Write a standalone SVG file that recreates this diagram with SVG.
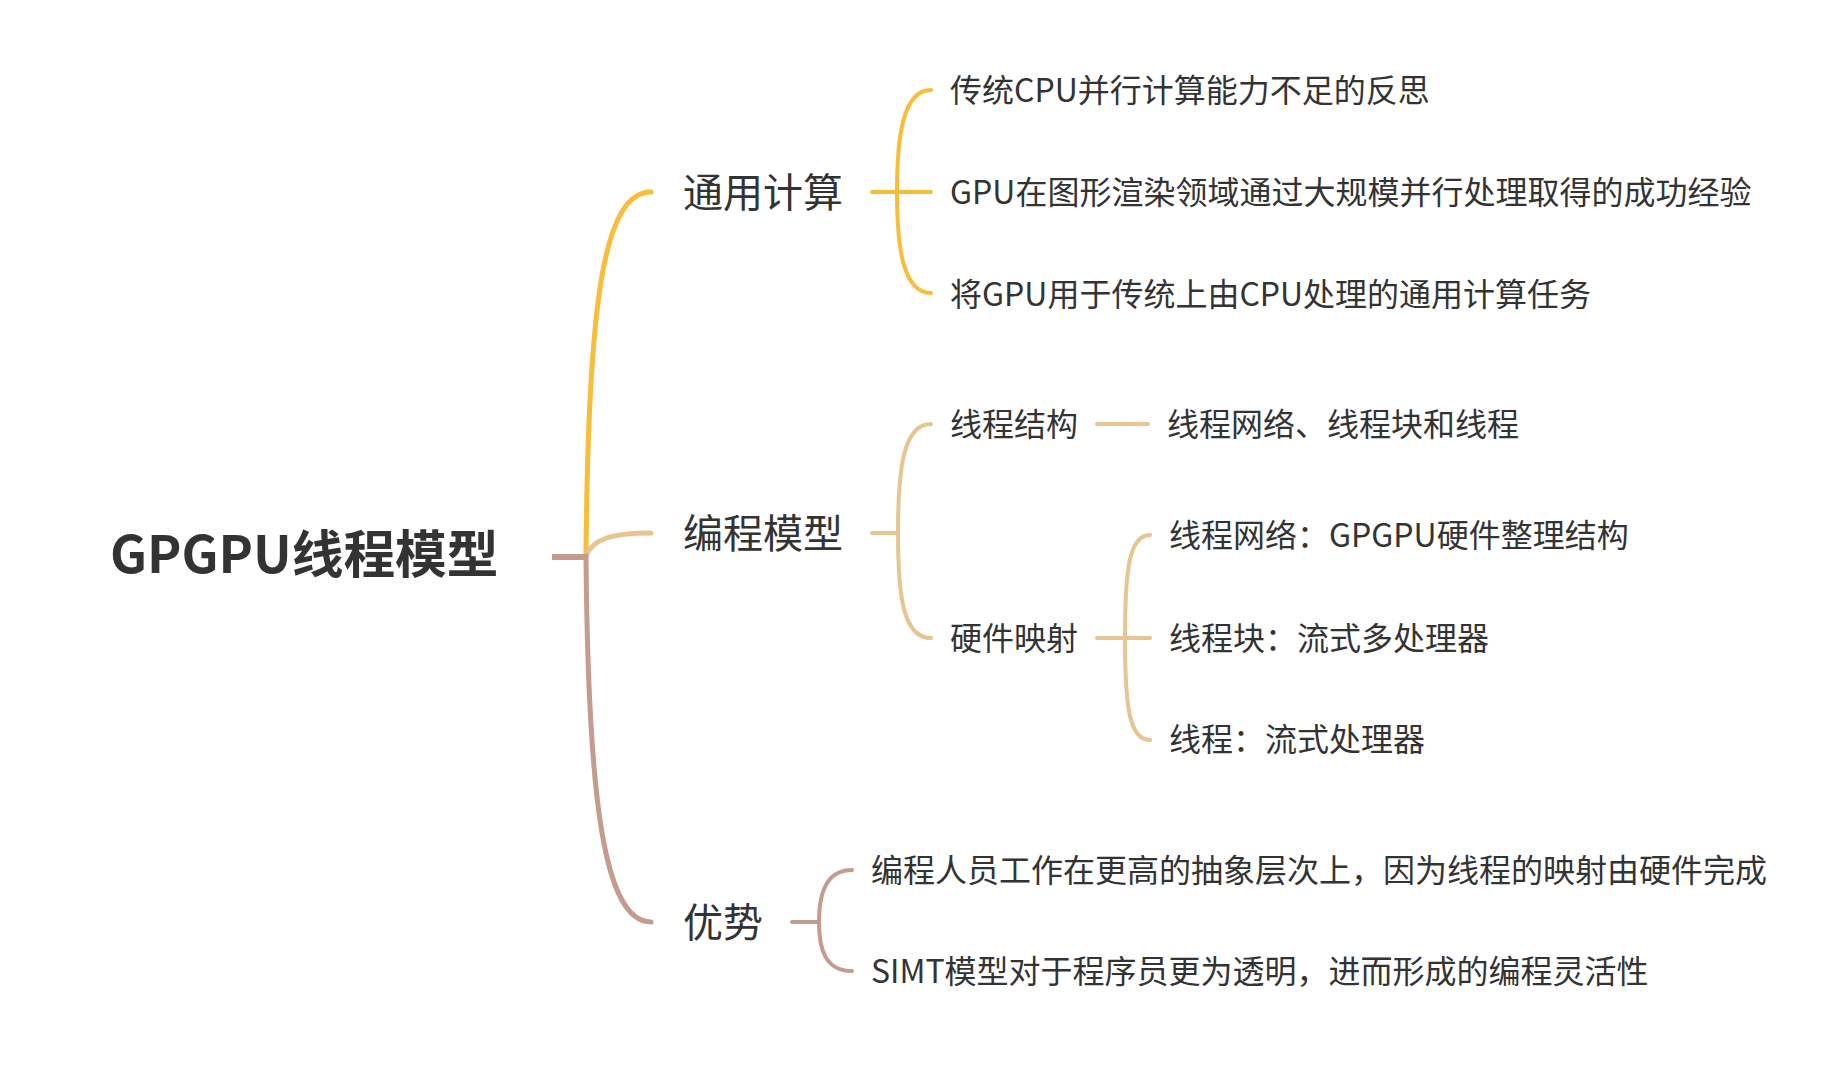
<svg xmlns="http://www.w3.org/2000/svg" width="1848" height="1066" viewBox="0 0 1848 1066">
<style>
text{font-family:"Noto Sans CJK SC","Noto Sans",sans-serif;fill:#333333}
.root{font-size:51.7px;font-weight:700}
.l1{font-size:40px}
.l2{font-size:32px}
.c{fill:none;stroke-linecap:round}
.y{stroke:#F9BD39}
.t{stroke:#E6C591}
.b{stroke:#C59B8D}
</style>
<rect width="1848" height="1066" fill="#ffffff"/>
<g id="connectors">
  <path class="c y" stroke-width="5" d="M586 556 C588 300 604 192 651 192"/>
  <path class="c t" stroke-width="5" d="M586 556 C592 540 610 533 651 533"/>
  <path class="c b" stroke-width="5" d="M586 556 C588 800 604 922 651 922"/>
  <path class="b" stroke-width="6" d="M552 557 H588" fill="none"/>
  <path class="c y" stroke-width="4" d="M872 192 H931 M931 90 C902 90 897 140 897 192 C897 244 902 293 931 293"/>
  <path class="c t" stroke-width="4" d="M872 533 H898 M931 424 C903 424 898 470 898 533 C898 596 903 638 931 638"/>
  <path class="c t" stroke-width="4" d="M1097 424 H1148"/>
  <path class="c t" stroke-width="4" d="M1097 638 H1150 M1150 535 C1129 535 1125 570 1125 638 C1125 706 1129 740 1150 740"/>
  <path class="c b" stroke-width="4" d="M792 922 H819 M852 870 C825 870 819 895 819 922 C819 949 825 971 852 971"/>
</g>
<g id="root"><text class="root" x="110" y="573">GPGPU线程模型</text></g>
<g id="n-general"><text class="l1" x="683" y="207">通用计算</text></g>
<g id="n-general-1"><text class="l2" x="950" y="102">传统CPU并行计算能力不足的反思</text></g>
<g id="n-general-2"><text class="l2" x="950" y="204">GPU在图形渲染领域通过大规模并行处理取得的成功经验</text></g>
<g id="n-general-3"><text class="l2" x="950" y="306">将GPU用于传统上由CPU处理的通用计算任务</text></g>
<g id="n-model"><text class="l1" x="683" y="548">编程模型</text></g>
<g id="n-struct"><text class="l2" x="950" y="436">线程结构</text></g>
<g id="n-struct-1"><text class="l2" x="1167" y="436">线程网络、线程块和线程</text></g>
<g id="n-map"><text class="l2" x="950" y="650">硬件映射</text></g>
<g id="n-map-1"><text class="l2" x="1169" y="547">线程网络：GPGPU硬件整理结构</text></g>
<g id="n-map-2"><text class="l2" x="1169" y="650">线程块：流式多处理器</text></g>
<g id="n-map-3"><text class="l2" x="1169" y="751">线程：流式处理器</text></g>
<g id="n-adv"><text class="l1" x="683" y="937">优势</text></g>
<g id="n-adv-1"><text class="l2" x="871" y="882">编程人员工作在更高的抽象层次上，因为线程的映射由硬件完成</text></g>
<g id="n-adv-2"><text class="l2" x="871" y="983">SIMT模型对于程序员更为透明，进而形成的编程灵活性</text></g>
</svg>
